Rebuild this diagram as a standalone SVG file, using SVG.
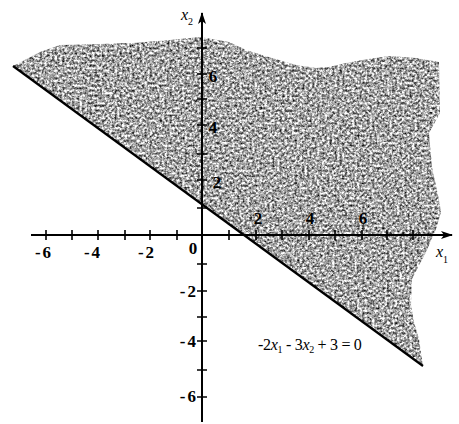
<svg xmlns="http://www.w3.org/2000/svg" width="459" height="424" viewBox="0 0 459 424">
<style>
.ax{stroke:#000;stroke-width:2;fill:none}
.tk{stroke:#000;stroke-width:1.6}
.lbl{font-family:"Liberation Serif","DejaVu Serif","Times New Roman",serif;font-weight:bold;font-size:17px;fill:#000}
.var{font-family:"Liberation Serif","DejaVu Serif","Times New Roman",serif;font-style:italic;font-size:16px;fill:#000}
.sub{font-size:10px;font-style:normal}
.eq{font-family:"Liberation Serif","DejaVu Serif","Times New Roman",serif;font-size:16px;fill:#000}
</style>
<defs>
<filter id="grain" x="0%" y="0%" width="100%" height="100%" color-interpolation-filters="sRGB">
<feTurbulence type="fractalNoise" baseFrequency="0.4" numOctaves="4" seed="11" result="noise"/>
<feColorMatrix in="noise" type="matrix" values="1.6 0 0 0 -0.15  1.6 0 0 0 -0.15  1.6 0 0 0 -0.15  0 0 0 0 1" result="gray"/>
<feComposite in="gray" in2="SourceGraphic" operator="in"/>
</filter>
<marker id="arr" markerWidth="12" markerHeight="8" refX="11" refY="4" orient="auto" markerUnits="userSpaceOnUse">
<path d="M0,0 L12,4 L0,8 L3,4 Z" fill="#000"/>
</marker>
</defs>
<g id="region">
<polygon filter="url(#grain)" fill="#999" points="13,66 40,52 60,45 100,44 133,43 170,40 200,37 229,42 246,50 262,55 296,65 316,68 329,67 346,63 362,60 389,56 416,58 439,62 440,113 429,133 432,167 439,200 441,212 436,229 426,252 412,279 411,305 414,322 419,339 423,366"/>
</g>
<g id="axes">
<line class="ax" x1="31" y1="235" x2="452" y2="235" marker-end="url(#arr)"/>
<line class="ax" x1="202" y1="422" x2="202" y2="13" marker-end="url(#arr)"/>
</g>
<g id="ticks">
<path class="tk" d="M46,230V240M72,230V240M98,230V240M125,230V240M150,230V240M177,230V240M229,230V240M256,230V240M282,230V240M309,230V240M335,230V240M362,230V240M387,230V240M413,230V240"/>
<path class="tk" d="M197,48H207M197,74H207M197,99H207M197,125H207M197,154H207M197,180H207M197,208H207M197,264H207M197,291H207M197,317H207M197,341H207M197,370H207M197,397H207"/>
</g>
<g id="tick-labels" class="lbl">
<text x="44" y="258" text-anchor="middle" letter-spacing="2">-6</text>
<text x="93" y="258" text-anchor="middle" letter-spacing="2">-4</text>
<text x="147" y="258" text-anchor="middle" letter-spacing="2">-2</text>
<text x="193" y="254" text-anchor="middle">0</text>
<text x="258" y="224" text-anchor="middle">2</text>
<text x="310" y="224" text-anchor="middle">4</text>
<text x="363" y="224" text-anchor="middle">6</text>
<text x="213" y="82" text-anchor="middle">6</text>
<text x="213" y="133" text-anchor="middle">4</text>
<text x="217" y="188" text-anchor="middle">2</text>
<text x="198" y="297" text-anchor="end" letter-spacing="2">-2</text>
<text x="198" y="347" text-anchor="end" letter-spacing="2">-4</text>
<text x="198" y="402" text-anchor="end" letter-spacing="2">-6</text>
</g>
<g id="constraint-line">
<line x1="13" y1="66" x2="423" y2="366" stroke="#000" stroke-width="2.2"/>
</g>
<g id="axis-labels">
<text class="var" x="181" y="20">x<tspan class="sub" dy="5">2</tspan></text>
<text class="var" x="436" y="257">x<tspan class="sub" dy="6">1</tspan></text>
</g>
<g id="equation">
<text class="eq" x="258" y="350" letter-spacing="-0.3">-2<tspan font-style="italic">x</tspan><tspan font-size="10" dy="3">1</tspan><tspan dy="-3"> - 3</tspan><tspan font-style="italic">x</tspan><tspan font-size="10" dy="3">2</tspan><tspan dy="-3"> + 3 = 0</tspan></text>
</g>
</svg>
